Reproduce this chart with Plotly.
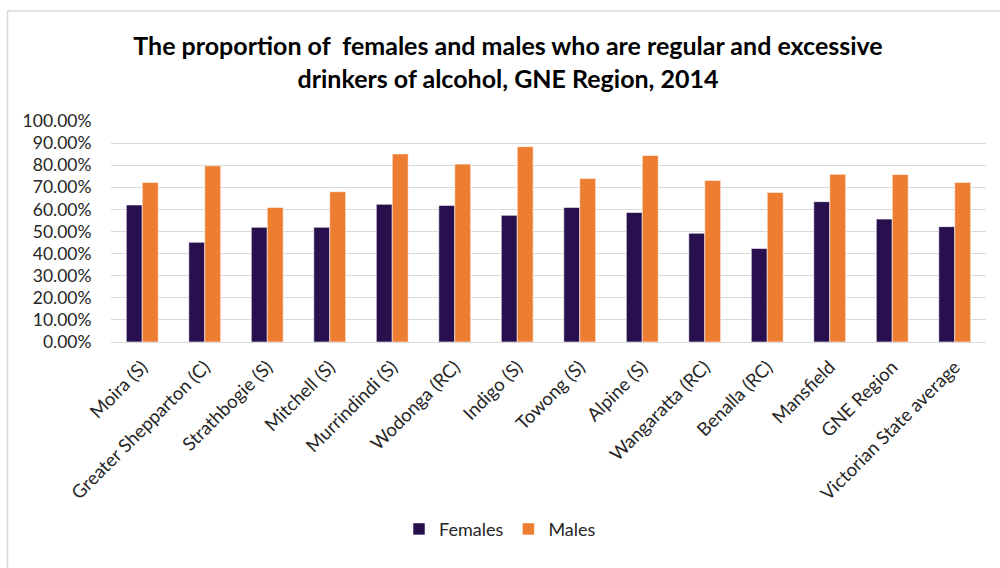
import plotly.graph_objects as go

categories = [
    "Moira (S)", "Greater Shepparton (C)", "Strathbogie (S)", "Mitchell (S)",
    "Murrindindi (S)", "Wodonga (RC)", "Indigo (S)", "Towong (S)", "Alpine (S)",
    "Wangaratta (RC)", "Benalla (RC)", "Mansfield", "GNE Region",
    "Victorian State average",
]
females = [0.620, 0.451, 0.519, 0.519, 0.623, 0.618, 0.573, 0.609, 0.586,
           0.492, 0.423, 0.635, 0.556, 0.522]
males = [0.722, 0.797, 0.609, 0.680, 0.851, 0.805, 0.884, 0.740, 0.844,
         0.731, 0.677, 0.759, 0.758, 0.722]
y_ticks = [i / 10 for i in range(11)]

W, H = 1000, 568
L, R, T, B = 111, 986, 120.7, 342.3  # plot area in pixels


def px_x(x):
    return (x - L) / (R - L)


def px_y(y):
    return (B - y) / (B - T)


FONT = "Lato, 'Open Sans', sans-serif"
TXT = "#262626"

fig = go.Figure()
fig.add_trace(go.Bar(
    name="Females", x=categories, y=females,
    marker=dict(color="#28104E", line=dict(color="rgba(255,255,255,0.7)", width=0.8)),
))
fig.add_trace(go.Bar(
    name="Males", x=categories, y=males,
    marker=dict(color="#ED7D31", line=dict(color="rgba(255,255,255,0.7)", width=0.8)),
))

fig.update_layout(
    width=W, height=H,
    margin=dict(l=L, r=W - R, t=T, b=H - B),
    paper_bgcolor="white", plot_bgcolor="white",
    barmode="group", bargap=0.49, bargroupgap=0,
    font=dict(family=FONT, size=17, color=TXT),
    title=dict(
        text="<b>The proportion of  females and males who are regular and excessive<br>"
             "drinkers of alcohol, GNE Region, 2014</b>",
        x=0.508, xanchor="center", y=1 - 55 / H, yanchor="middle",
        font=dict(family=FONT, size=25, color="#000000"),
    ),
    legend=dict(
        orientation="h", x=px_x(500), xanchor="center",
        y=px_y(530), yanchor="middle",
        font=dict(family=FONT, size=18, color=TXT),
        itemwidth=30, traceorder="normal",
    ),
    xaxis=dict(
        tickangle=-45, showgrid=False, showline=False,
        ticks="outside", ticklen=6, tickcolor="rgba(0,0,0,0)",
        tickfont=dict(family=FONT, size=18.5, color=TXT),
    ),
    yaxis=dict(
        range=[0, 1], tickvals=y_ticks, tickformat=".2%",
        showgrid=True, gridcolor="#D9D9D9", gridwidth=1.3,
        zeroline=True, zerolinecolor="#D9D9D9", zerolinewidth=1.3,
        showline=False, ticks="outside", ticklen=15, tickcolor="rgba(0,0,0,0)",
        tickfont=dict(family=FONT, size=17.5, color=TXT),
    ),
    shapes=[
        dict(type="line", xref="paper", yref="paper",
             x0=px_x(7.5), x1=px_x(1010), y0=px_y(10.5), y1=px_y(10.5),
             line=dict(color="#D9D9D9", width=1.5)),
        dict(type="line", xref="paper", yref="paper",
             x0=px_x(7.5), x1=px_x(7.5), y0=px_y(10.5), y1=px_y(580),
             line=dict(color="#D9D9D9", width=1.5)),
    ],
)

fig.write_html("out.html")
